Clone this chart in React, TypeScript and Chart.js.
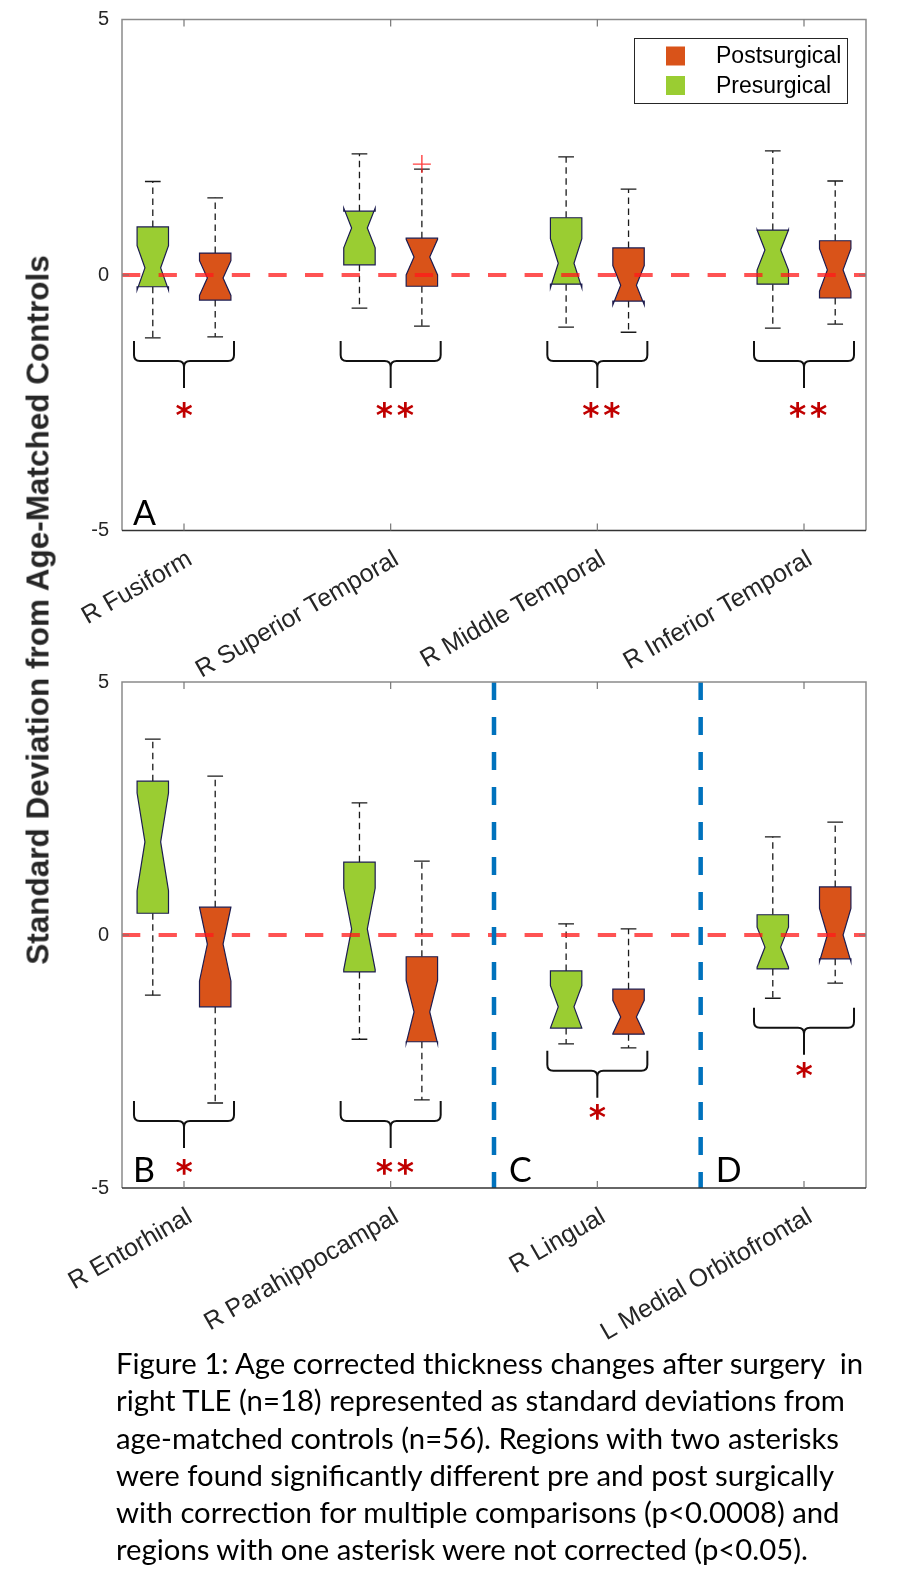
import { useEffect, useRef } from "react";
import { Chart, registerables } from "chart.js";

Chart.register(...registerables);

// ---------- data ----------
const topCategories = ["R Fusiform", "R Superior Temporal", "R Middle Temporal", "R Inferior Temporal"];
const bottomCategories = ["R Entorhinal", "R Parahippocampal", "R Lingual", "L Medial Orbitofrontal"];

// each row: [lower whisker, Q1, median, Q3, upper whisker]
const topPresurgical = [
  [-1.23, -0.23, 0.14, 0.94, 1.83],
  [-0.65, 0.2, 0.92, 1.25, 2.37],
  [-1.02, -0.18, 0.23, 1.12, 2.31],
  [-1.04, -0.18, 0.49, 0.88, 2.43],
];
const topPostsurgical = [
  [-1.21, -0.49, -0.06, 0.43, 1.51],
  [-1.0, -0.22, 0.35, 0.72, 2.07],
  [-1.12, -0.51, -0.2, 0.53, 1.68],
  [-0.96, -0.45, 0.1, 0.67, 1.84],
];
const bottomPresurgical = [
  [-1.19, 0.43, 1.84, 3.04, 3.87],
  [-2.06, -0.73, 0.12, 1.44, 2.61],
  [-2.15, -1.84, -1.42, -0.71, 0.22],
  [-1.25, -0.67, -0.24, 0.4, 1.94],
];
const bottomPostsurgical = [
  [-3.32, -1.42, -0.18, 0.55, 3.14],
  [-3.26, -2.11, -1.52, -0.43, 1.46],
  [-2.23, -1.96, -1.62, -1.07, 0.12],
  [-0.95, -0.47, 0.0, 0.95, 2.23],
];
// outliers of the postsurgical group: [category index, value]
const topPostOutliers = [[1, 2.17]];
const bottomPostOutliers: number[][] = [];

const topAsterisks = ["*", "**", "**", "**"];
const bottomAsterisks = ["*", "**", "*", "*"];
const topBraceTop = [-1.29, -1.29, -1.29, -1.29];
const bottomBraceTop = [-3.28, -3.28, -2.29, -1.44];
const topStarY = [-2.64, -2.64, -2.64, -2.64];
const bottomStarY = [-4.58, -4.58, -3.5, -2.67];

const topPanelLabels = ["A"];
const topPanelStarts = [0.7];
const bottomPanelLabels = ["B", "C", "D"];
const bottomPanelStarts = [0.7, 2.5, 3.5];
const bottomDividers = [2.5, 3.5];

const yTicks = [-5, 0, 5];
const sampleSize = 18;
const seriesNames = ["Presurgical", "Postsurgical"];

const captionLines = [
  "Figure 1: Age corrected thickness changes after surgery  in",
  "right TLE (n=18) represented as standard deviations from",
  "age-matched controls (n=56). Regions with two asterisks",
  "were found significantly different pre and post surgically",
  "with correction for multiple comparisons (p<0.0008) and",
  "regions with one asterisk were not corrected (p<0.05).",
];
const yTitle = "Standard Deviation from Age-Matched Controls";

// ---------- styles ----------
const GREEN = "#9acd32";
const ORANGE = "#d95319";
const GROUP_OFFSET = 0.151;
const BOX_W = 0.152;
const CAP_W = 0.076;

type PanelProps = {
  categories: string[];
  pre: number[][];
  post: number[][];
  outliers: number[][];
  stars: string[];
  braceTop: number[];
  starY: number[];
  panelLabels: string[];
  panelStarts: number[];
  dividers: number[];
  legend: boolean;
  canvasTop: number;
  canvasHeight: number;
  areaTop: number;
  areaBottom: number;
};

function drawBox(ctx: CanvasRenderingContext2D, xs: any, ys: any, cx: number, s: number[], fill: string) {
  const [mn, q1, med, q3, mx] = s;
  const notch = (1.57 * (q3 - q1)) / Math.sqrt(sampleSize);
  const half = BOX_W / 2;
  const L = xs.getPixelForValue(cx - half);
  const R = xs.getPixelForValue(cx + half);
  const nl = xs.getPixelForValue(cx - half / 2);
  const nr = xs.getPixelForValue(cx + half / 2);
  const C = xs.getPixelForValue(cx);
  const cl = xs.getPixelForValue(cx - CAP_W / 2);
  const cr = xs.getPixelForValue(cx + CAP_W / 2);
  const py = (v: number) => ys.getPixelForValue(v);

  ctx.save();
  ctx.strokeStyle = "#1a1a1a";
  ctx.lineWidth = 1.3;
  ctx.setLineDash([6.5, 4.5]);
  ctx.beginPath();
  ctx.moveTo(C, py(q3));
  ctx.lineTo(C, py(mx));
  ctx.moveTo(C, py(q1));
  ctx.lineTo(C, py(mn));
  ctx.stroke();
  ctx.setLineDash([]);
  ctx.beginPath();
  ctx.moveTo(cl, py(mx));
  ctx.lineTo(cr, py(mx));
  ctx.moveTo(cl, py(mn));
  ctx.lineTo(cr, py(mn));
  ctx.stroke();

  ctx.beginPath();
  ctx.moveTo(L, py(q1));
  ctx.lineTo(L, py(med - notch));
  ctx.lineTo(nl, py(med));
  ctx.lineTo(L, py(med + notch));
  ctx.lineTo(L, py(q3));
  ctx.lineTo(R, py(q3));
  ctx.lineTo(R, py(med + notch));
  ctx.lineTo(nr, py(med));
  ctx.lineTo(R, py(med - notch));
  ctx.lineTo(R, py(q1));
  ctx.closePath();
  ctx.fillStyle = fill;
  ctx.fill();
  ctx.strokeStyle = "#1c1c50";
  ctx.lineWidth = 1.2;
  ctx.stroke();
  ctx.restore();
}

function centeredText(ctx: CanvasRenderingContext2D, text: string, cx: number, cy: number) {
  const m = ctx.measureText(text);
  const asc = m.actualBoundingBoxAscent;
  const desc = m.actualBoundingBoxDescent;
  const left = m.actualBoundingBoxLeft;
  const right = m.actualBoundingBoxRight;
  ctx.textAlign = "left";
  ctx.textBaseline = "alphabetic";
  ctx.fillText(text, cx - (right - left) / 2, cy + (asc - desc) / 2);
}

function Panel(p: PanelProps) {
  const ref = useRef<HTMLCanvasElement>(null);

  useEffect(() => {
    const canvas = ref.current;
    if (!canvas) return;
    const padTop = p.areaTop - p.canvasTop;
    const xAxisH = p.canvasHeight - (p.areaBottom - p.canvasTop);

    const plugin = {
      id: "boxplotDecor",
      beforeDatasetsDraw(chart: any) {
        const ctx = chart.ctx as CanvasRenderingContext2D;
        const xs = chart.scales.x;
        const ys = chart.scales.y;
        const a = chart.chartArea;
        ctx.save();
        ctx.beginPath();
        ctx.rect(a.left, a.top, a.right - a.left, a.bottom - a.top);
        ctx.clip();
        p.categories.forEach((_, i) => {
          drawBox(ctx, xs, ys, i + 1 - GROUP_OFFSET, p.pre[i], GREEN);
          drawBox(ctx, xs, ys, i + 1 + GROUP_OFFSET, p.post[i], ORANGE);
        });
        ctx.restore();
      },
      afterDatasetsDraw(chart: any) {
        const ctx = chart.ctx as CanvasRenderingContext2D;
        const xs = chart.scales.x;
        const ys = chart.scales.y;
        const a = chart.chartArea;
        ctx.save();
        ctx.beginPath();
        ctx.rect(a.left, a.top, a.right - a.left, a.bottom - a.top);
        ctx.clip();

        // braces
        ctx.strokeStyle = "#111";
        ctx.lineWidth = 2;
        ctx.lineJoin = "round";
        p.categories.forEach((_, i) => {
          const cx = xs.getPixelForValue(i + 1);
          const L = xs.getPixelForValue(i + 1 - 0.242);
          const R = xs.getPixelForValue(i + 1 + 0.242);
          const yT = ys.getPixelForValue(p.braceTop[i]);
          const yB = yT + 20;
          const yTip = yB + 27;
          const r = 6;
          ctx.beginPath();
          ctx.moveTo(L, yT);
          ctx.lineTo(L, yB - r);
          ctx.quadraticCurveTo(L, yB, L + r, yB);
          ctx.lineTo(cx - r, yB);
          ctx.quadraticCurveTo(cx, yB, cx, yB + r);
          ctx.lineTo(cx, yTip);
          ctx.moveTo(cx, yB + r);
          ctx.quadraticCurveTo(cx, yB, cx + r, yB);
          ctx.lineTo(R - r, yB);
          ctx.quadraticCurveTo(R, yB, R, yB - r);
          ctx.lineTo(R, yT);
          ctx.stroke();
        });

        // asterisks
        ctx.fillStyle = "#c00000";
        ctx.font = "bold 33px 'DejaVu Sans'";
        p.categories.forEach((_, i) => {
          const cx = xs.getPixelForValue(i + 1);
          const cy = ys.getPixelForValue(p.starY[i]);
          const n = p.stars[i].length;
          if (n === 1) centeredText(ctx, "*", cx, cy);
          else {
            centeredText(ctx, "*", cx + 4 - 10.5, cy);
            centeredText(ctx, "*", cx + 4 + 10.5, cy);
          }
        });

        // zero line
        ctx.strokeStyle = "rgba(255,25,25,0.75)";
        ctx.lineWidth = 4;
        ctx.setLineDash([18.3, 18.3]);
        ctx.lineDashOffset = 0;
        const y0 = ys.getPixelForValue(0);
        ctx.beginPath();
        ctx.moveTo(a.left, y0);
        ctx.lineTo(a.right, y0);
        ctx.stroke();

        // dividers
        ctx.strokeStyle = "#0072bd";
        ctx.lineWidth = 4.5;
        ctx.setLineDash([18, 17]);
        p.dividers.forEach((d) => {
          const x = xs.getPixelForValue(d);
          ctx.beginPath();
          ctx.moveTo(x, a.top);
          ctx.lineTo(x, a.bottom);
          ctx.stroke();
        });
        ctx.setLineDash([]);

        // panel letters
        ctx.fillStyle = "#000";
        ctx.font = "34px Lato";
        ctx.textAlign = "left";
        ctx.textBaseline = "alphabetic";
        p.panelLabels.forEach((lab, i) => {
          const x = xs.getPixelForValue(p.panelStarts[i]) + (p.panelStarts[i] <= 0.7 ? 11 : 15);
          ctx.fillText(lab, x, a.bottom - 6);
        });
        ctx.restore();

        // frame and inner ticks
        ctx.save();
        ctx.lineWidth = 1.5;
        ctx.strokeStyle = "#8a8a8a";
        ctx.beginPath();
        ctx.moveTo(a.left, a.bottom);
        ctx.lineTo(a.left, a.top);
        ctx.lineTo(a.right, a.top);
        ctx.lineTo(a.right, a.bottom);
        ctx.stroke();
        ctx.strokeStyle = "#333";
        ctx.beginPath();
        ctx.moveTo(a.left, a.bottom);
        ctx.lineTo(a.right, a.bottom);
        ctx.stroke();
        ctx.strokeStyle = "#777";
        ctx.lineWidth = 1.2;
        ctx.beginPath();
        p.categories.forEach((_, i) => {
          const x = xs.getPixelForValue(i + 1);
          ctx.moveTo(x, a.bottom);
          ctx.lineTo(x, a.bottom - 7);
          ctx.moveTo(x, a.top);
          ctx.lineTo(x, a.top + 7);
        });
        ctx.moveTo(a.left, y0);
        ctx.lineTo(a.left + 7, y0);
        ctx.moveTo(a.right, y0);
        ctx.lineTo(a.right - 7, y0);
        ctx.stroke();
        ctx.restore();

        // legend
        if (p.legend) {
          ctx.save();
          const lr = a.right - 19;
          const lt = a.top + 18.5;
          const lw = 213;
          const lh = 65;
          ctx.fillStyle = "#fff";
          ctx.fillRect(lr - lw, lt, lw, lh);
          ctx.strokeStyle = "#262626";
          ctx.lineWidth = 1;
          ctx.strokeRect(lr - lw + 0.5, lt + 0.5, lw, lh);
          const ds = chart.data.datasets;
          const entries = [ds[1], ds[0]];
          ctx.font = "23px 'Liberation Sans'";
          ctx.textAlign = "left";
          ctx.textBaseline = "middle";
          entries.forEach((d: any, k: number) => {
            const cy = lt + 18 + k * 29.5;
            ctx.fillStyle = d.backgroundColor;
            ctx.fillRect(lr - lw + 32, cy - 9.5, 19, 19);
            ctx.fillStyle = "#000";
            ctx.fillText(d.label, lr - lw + 82, cy + 1);
          });
          ctx.restore();
        }
      },
    };

    const chart = new Chart(canvas, {
      type: "scatter",
      data: {
        datasets: [
          {
            label: seriesNames[0],
            data: p.categories.map((_, i) => ({ x: i + 1 - GROUP_OFFSET, y: p.pre[i][2] })),
            backgroundColor: GREEN,
            borderColor: GREEN,
            pointRadius: 0,
          },
          {
            label: seriesNames[1],
            data: p.categories.map((_, i) => ({ x: i + 1 + GROUP_OFFSET, y: p.post[i][2] })),
            backgroundColor: ORANGE,
            borderColor: ORANGE,
            pointRadius: 0,
          },
          {
            label: "Outliers",
            data: p.outliers.map((o) => ({ x: o[0] + 1 + GROUP_OFFSET, y: o[1] })),
            pointStyle: "cross",
            pointRadius: 9,
            borderColor: "rgba(255,30,30,0.85)",
            backgroundColor: "rgba(255,30,30,0.85)",
            borderWidth: 1.4,
          },
        ],
      },
      options: {
        animation: false,
        responsive: false,
        events: [],
        layout: { padding: { top: padTop, right: 53, left: 0, bottom: 0 } },
        plugins: { legend: { display: false }, tooltip: { enabled: false } },
        scales: {
          x: {
            type: "linear",
            min: 0.7,
            max: 4.3,
            grid: { display: false, drawTicks: false },
            border: { display: false },
            afterBuildTicks: (s: any) => {
              s.ticks = p.categories.map((_, i) => ({ value: i + 1 }));
            },
            afterFit: (s: any) => {
              s.height = xAxisH;
              s.paddingLeft = 0;
              s.paddingRight = 0;
            },
            ticks: {
              autoSkip: false,
              minRotation: 30,
              maxRotation: 30,
              labelOffset: 6,
              padding: 14,
              color: "#262626",
              font: { family: "'Liberation Sans', Arial", size: 25 },
              callback: (v: any) => p.categories[Math.round(Number(v)) - 1] ?? "",
            },
          },
          y: {
            type: "linear",
            min: -5,
            max: 5,
            grid: { display: false, drawTicks: false },
            border: { display: false },
            afterBuildTicks: (s: any) => {
              s.ticks = yTicks.map((v) => ({ value: v }));
            },
            afterFit: (s: any) => {
              s.width = 122;
              s.paddingTop = 0;
              s.paddingBottom = 0;
            },
            ticks: {
              padding: 13,
              color: "#262626",
              font: { family: "'Liberation Sans', Arial", size: 20 },
              callback: (v: any) => String(v),
            },
          },
        },
      },
      plugins: [plugin],
    } as any);
    return () => chart.destroy();
  }, []);

  return (
    <canvas
      ref={ref}
      width={919}
      height={p.canvasHeight}
      style={{ position: "absolute", left: 0, top: p.canvasTop, width: 919, height: p.canvasHeight }}
    />
  );
}

export default function App() {
  return (
    <div style={{ position: "absolute", left: 0, top: 0, width: 919, height: 1584, background: "#fff", overflow: "hidden" }}>
      <Panel
        categories={topCategories}
        pre={topPresurgical}
        post={topPostsurgical}
        outliers={topPostOutliers}
        stars={topAsterisks}
        braceTop={topBraceTop}
        starY={topStarY}
        panelLabels={topPanelLabels}
        panelStarts={topPanelStarts}
        dividers={[]}
        legend={true}
        canvasTop={0}
        canvasHeight={680}
        areaTop={19.5}
        areaBottom={530.5}
      />
      <Panel
        categories={bottomCategories}
        pre={bottomPresurgical}
        post={bottomPostsurgical}
        outliers={bottomPostOutliers}
        stars={bottomAsterisks}
        braceTop={bottomBraceTop}
        starY={bottomStarY}
        panelLabels={bottomPanelLabels}
        panelStarts={bottomPanelStarts}
        dividers={bottomDividers}
        legend={false}
        canvasTop={640}
        canvasHeight={720}
        areaTop={682}
        areaBottom={1188}
      />
      <div
        style={{
          position: "absolute",
          left: 38,
          top: 610,
          transform: "translate(-50%, -50%) rotate(-90deg)",
          whiteSpace: "nowrap",
          font: "bold 31.5px 'Liberation Sans', Arial, sans-serif",
          color: "#262626",
        }}
      >
        {yTitle}
      </div>
      <div
        style={{
          position: "absolute",
          left: 116,
          top: 1344,
          font: "29.3px Lato, sans-serif",
          lineHeight: "37.3px",
          whiteSpace: "pre",
          color: "#000",
        }}
      >
        {captionLines.join("\n")}
      </div>
    </div>
  );
}
